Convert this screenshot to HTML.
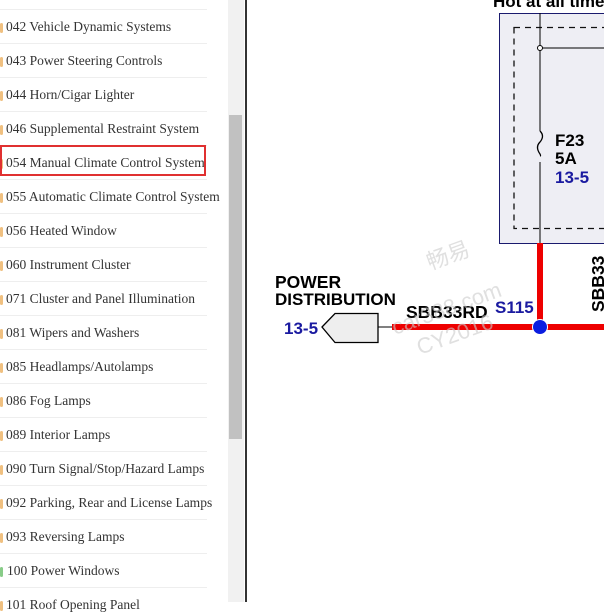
<!DOCTYPE html>
<html><head><style>
body{margin:0;width:604px;height:602px;overflow:hidden;background:#fff;position:relative;font-family:"Liberation Serif",serif}
.item{position:absolute;left:6px;font-size:13.5px;color:#333;white-space:nowrap}
.sep{position:absolute;left:0;width:207px;height:1px;background:#eee}
.ic{position:absolute;left:0;width:3px;height:10px;background:#f0c080;border-radius:2px}
</style></head><body>
<div style="position:absolute;left:228px;top:0;width:16px;height:602px;background:#f1f1f1"></div>
<div style="position:absolute;left:229px;top:115px;width:13px;height:324px;background:#c1c1c1"></div>
<div style="position:absolute;left:245px;top:0;width:2px;height:602px;background:#333"></div>
<div id="list"></div>
<script>
var t=["042 Vehicle Dynamic Systems","043 Power Steering Controls","044 Horn/Cigar Lighter","046 Supplemental Restraint System","054 Manual Climate Control System","055 Automatic Climate Control System","056 Heated Window","060 Instrument Cluster","071 Cluster and Panel Illumination","081 Wipers and Washers","085 Headlamps/Autolamps","086 Fog Lamps","089 Interior Lamps","090 Turn Signal/Stop/Hazard Lamps","092 Parking, Rear and License Lamps","093 Reversing Lamps","100 Power Windows","101 Roof Opening Panel"];
var h="";
for(var i=0;i<t.length;i++){var y=17+34*i;
h+='<div class="sep" style="top:'+(y-8)+'px"></div>';
h+='<div class="ic" style="top:'+(y+6)+'px;'+(i==16?'background:#8c8;':'')+'"></div>';
h+='<div class="item" style="top:'+(y+2)+'px;'+(i==16?'left:7px':'')+'">'+t[i]+'</div>';}
h+='<div style="position:absolute;left:0;top:145px;width:206px;height:31px;border:2px solid #e03030;box-sizing:border-box"></div>';
document.getElementById("list").innerHTML=h;
</script>
<svg style="position:absolute;left:0;top:0" width="604" height="602">
<g font-family="Liberation Sans,sans-serif" font-weight="bold">
<text x="493" y="7" font-size="17">Hot at all times</text>
<rect x="499.5" y="13.5" width="120" height="230" fill="#eeeef4" stroke="#1a1a6e"/>
<rect x="514" y="27.5" width="110" height="201" fill="none" stroke="#111" stroke-dasharray="6,5" stroke-width="1.3"/>
<line x1="540" y1="13" x2="540" y2="131" stroke="#000"/>
<path d="M540 131 q5 5 0 11 q-5 5 0 12 q1 2 0 2" fill="none" stroke="#000" stroke-width="1.3"/>
<line x1="540" y1="162" x2="540" y2="243" stroke="#000"/>
<line x1="540" y1="48" x2="604" y2="48" stroke="#000"/>
<circle cx="540" cy="48" r="2.5" fill="#fff" stroke="#000"/>
<text x="555" y="146" font-size="17">F23</text>
<text x="555" y="164" font-size="17">5A</text>
<text x="555" y="183" font-size="17" fill="#1a1aa0">13-5</text>
<rect x="537" y="243" width="6" height="84" fill="#e00"/>
<rect x="392" y="324" width="212" height="6" fill="#e00"/>
<circle cx="540" cy="327" r="8" fill="#fff"/>
<circle cx="540" cy="327" r="7" fill="#0b1de0"/>
<line x1="378" y1="327" x2="392" y2="327" stroke="#000"/>
<polygon points="322,327 335,313.5 378,313.5 378,342.5 335,342.5" fill="#eee" stroke="#000" stroke-width="1.3"/>
<text x="284" y="334" font-size="17" fill="#1a1aa0">13-5</text>
<text x="275" y="288" font-size="17.5">POWER</text>
<text x="275" y="305" font-size="17">DISTRIBUTION</text>
<text x="406" y="318" font-size="17.5">SBB33RD</text>
<text x="495" y="313" font-size="17" fill="#1a1aa0">S115</text>
<text transform="translate(604,312) rotate(-90)" font-size="17.5">SBB33</text>
</g>
<g font-family="Liberation Sans,Noto Sans CJK SC,sans-serif" fill="#ccc" opacity="0.6" font-size="22">
<text transform="translate(430,270) rotate(-20)">畅易</text>
<text transform="translate(395,335) rotate(-20)">car388.com</text>
<text transform="translate(420,355) rotate(-20)">CY2016</text>
</g>
</svg>
</body></html>
